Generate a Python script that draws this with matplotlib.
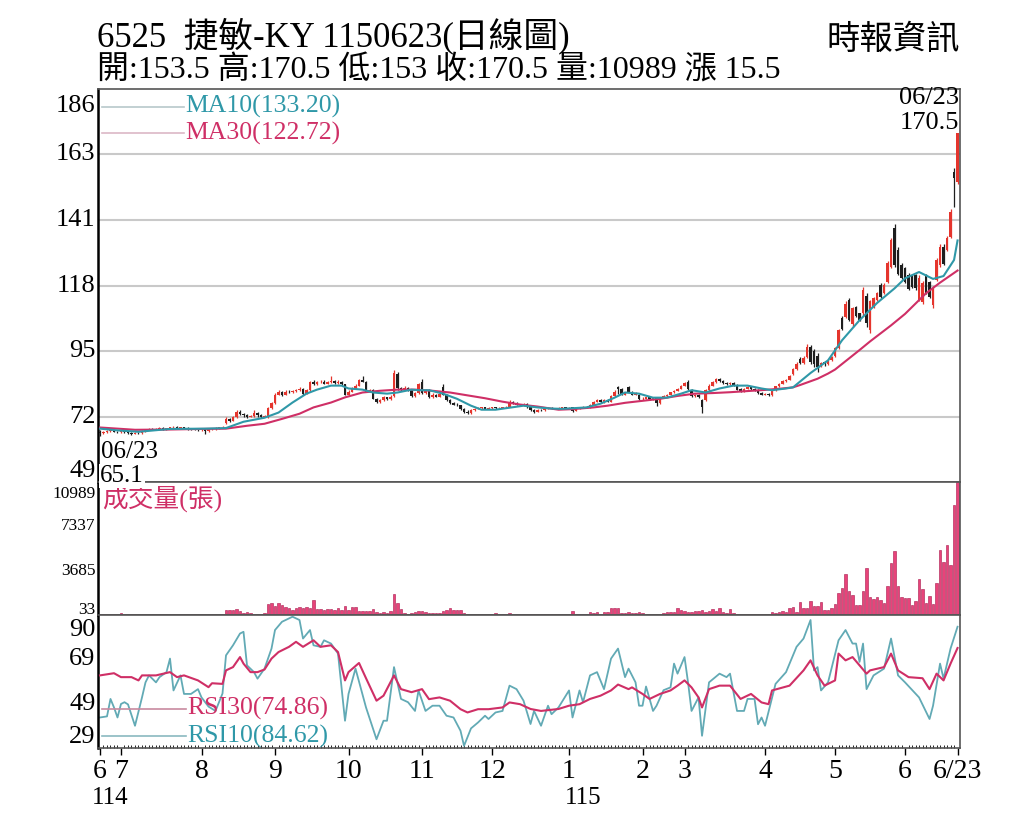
import matplotlib as mpl
import matplotlib.pyplot as plt
import matplotlib.transforms as mtransforms
import numpy as np

# 字型設定（英數用襯線體、中文用 Noto Sans CJK TC）
mpl.rcParams['font.family'] = ['Liberation Serif', 'Noto Sans CJK TC']

# ---- 資料 ----
# 日K（06/23 ~ 翌年06/23, 共246個交易日）
opens = [66.6, 66.2, 66.5, 66.8, 67.0, 66.6, 66.4, 66.8, 66.3, 66.0,
         65.8, 66.2, 66.0, 66.8, 67.3, 67.5, 67.3, 67.6, 67.8, 67.5,
         67.7, 68.0, 68.2, 67.9, 68.0, 67.8, 67.6, 67.5, 67.3, 67.0,
         67.5, 66.8, 67.4, 67.6, 67.8, 68.0, 69.5, 71.0, 70.4, 71.5,
         73.5, 72.8, 72.2, 71.8, 72.0, 73.0, 72.2, 71.8, 71.5, 74.8,
         76.5, 79.5, 80.5, 79.5, 80.5, 80.2, 80.8, 81.0, 81.5, 79.8,
         81.0, 83.8, 83.0, 83.8, 84.0, 83.2, 83.8, 84.2, 83.5, 84.0,
         83.0, 79.5, 80.5, 81.5, 82.5, 84.5, 84.0, 80.5, 81.0, 78.0,
         76.8, 77.5, 78.5, 77.8, 79.0, 86.5, 81.6, 81.2, 81.8, 81.0,
         79.0, 80.0, 84.0, 80.0, 81.0, 78.5, 79.5, 78.8, 82.0, 79.5,
         77.5, 76.5, 76.0, 75.8, 74.5, 73.5, 73.0, 74.0, 74.5, 74.8,
         75.0, 74.6, 74.8, 75.0, 74.7, 74.9, 75.0, 75.2, 77.0, 76.5,
         76.0, 75.8, 76.2, 75.0, 74.0, 73.5, 74.2, 74.0, 74.5, 74.8,
         74.6, 74.5, 74.8, 75.0, 74.7, 75.0, 73.8, 74.8, 75.0, 75.2,
         75.0, 76.0, 77.0, 77.5, 76.8, 77.5, 77.0, 79.0, 82.0, 81.5,
         79.5, 82.0, 80.5, 79.5, 79.5, 77.8, 78.0, 78.5, 77.8, 78.5,
         76.5, 78.5, 79.0, 79.5, 80.2, 80.8, 81.5, 82.5, 84.0, 81.0,
         79.0, 79.5, 77.5, 77.5, 81.0, 82.5, 83.8, 85.0, 84.2, 83.5,
         83.0, 83.5, 82.8, 81.5, 80.5, 81.5, 82.0, 81.5, 81.0, 80.0,
         79.5, 79.8, 79.2, 81.0, 82.3, 83.3, 84.2, 84.6, 86.5, 88.5,
         92.0, 90.6, 92.5, 96.0, 94.5, 93.0, 89.5, 90.8, 90.0, 91.5,
         93.0, 95.6, 106.0, 106.5, 112.4, 104.0, 110.0, 107.8, 108.0, 114.0,
         102.0, 110.0, 112.5, 117.7, 115.0, 118.7, 124.0, 137.6, 130.0, 124.7,
         123.6, 121.0, 121.0, 121.0, 112.5, 111.7, 121.0, 118.7, 110.7, 119.5,
         124.5, 131.0, 130.0, 134.5, 157.0, 153.5]
highs = [67.0, 66.8, 67.1, 67.3, 67.2, 66.9, 67.0, 67.0, 66.6, 66.3,
         66.5, 66.5, 67.0, 67.6, 67.8, 67.8, 67.9, 68.1, 68.1, 67.9,
         68.3, 68.5, 68.5, 68.3, 68.3, 68.1, 67.9, 67.8, 67.6, 67.5,
         67.8, 67.7, 67.9, 68.1, 68.3, 68.6, 71.5, 71.3, 72.0, 74.2,
         74.0, 73.2, 72.6, 72.5, 74.0, 73.3, 72.6, 72.4, 75.2, 77.0,
         80.0, 81.0, 80.8, 80.9, 80.9, 81.2, 81.5, 82.0, 81.8, 81.5,
         84.3, 84.5, 84.3, 84.6, 84.4, 84.3, 86.0, 84.6, 84.5, 84.3,
         83.3, 81.0, 82.0, 83.0, 85.0, 86.0, 84.3, 81.5, 81.3, 78.4,
         78.0, 79.0, 78.8, 79.2, 88.0, 87.5, 82.0, 82.3, 82.0, 81.3,
         80.5, 83.5, 85.0, 81.5, 81.3, 80.0, 79.8, 80.3, 83.0, 79.8,
         77.8, 77.0, 76.5, 76.0, 74.8, 74.0, 74.4, 74.8, 75.1, 75.3,
         75.3, 75.1, 75.3, 75.3, 75.2, 75.3, 75.5, 77.5, 77.3, 76.8,
         76.3, 76.5, 76.5, 75.3, 74.3, 74.5, 74.5, 74.8, 75.1, 75.1,
         74.9, 75.1, 75.3, 75.3, 75.2, 75.3, 75.1, 75.3, 75.5, 75.5,
         76.3, 77.3, 77.8, 77.8, 77.8, 77.8, 79.5, 81.0, 82.3, 81.8,
         80.5, 82.3, 80.8, 80.4, 79.8, 78.5, 78.8, 78.8, 78.6, 78.8,
         78.8, 79.3, 79.8, 80.5, 81.1, 81.8, 82.8, 84.0, 84.6, 81.3,
         79.8, 79.8, 77.8, 81.5, 83.0, 84.2, 85.3, 85.4, 84.5, 83.8,
         83.8, 83.8, 83.0, 81.8, 81.8, 82.3, 82.3, 81.8, 81.3, 80.3,
         80.1, 80.1, 81.3, 82.6, 83.6, 84.5, 84.9, 86.3, 88.8, 90.8,
         92.6, 92.8, 97.0, 96.8, 95.5, 94.0, 91.0, 91.2, 91.8, 92.8,
         96.0, 102.5, 107.0, 112.0, 113.0, 110.0, 110.5, 108.0, 117.0, 115.0,
         112.5, 113.5, 115.3, 118.2, 118.2, 126.0, 134.0, 139.0, 131.0, 125.5,
         124.0, 122.0, 121.5, 121.5, 121.0, 119.0, 121.5, 119.0, 117.2, 127.0,
         132.0, 132.0, 134.8, 144.0, 158.5, 170.5]
lows = [65.1, 65.9, 66.2, 66.5, 66.3, 66.1, 66.1, 66.0, 65.7, 65.5,
        65.6, 65.7, 65.8, 66.6, 67.0, 67.0, 67.0, 67.4, 67.2, 67.3,
        67.4, 67.7, 67.6, 67.6, 67.5, 67.3, 67.2, 67.0, 66.7, 66.8,
        65.8, 66.6, 67.1, 67.3, 67.5, 67.8, 69.2, 70.0, 70.2, 71.3,
        72.4, 71.8, 71.4, 71.5, 71.5, 71.8, 71.4, 71.5, 71.2, 74.5,
        76.3, 79.2, 79.0, 79.2, 79.9, 80.0, 80.5, 80.8, 79.5, 79.6,
        80.8, 82.7, 82.8, 83.5, 83.0, 83.0, 83.6, 83.2, 83.3, 82.8,
        79.2, 79.3, 80.3, 81.3, 82.3, 83.7, 80.2, 80.3, 77.8, 76.5,
        76.5, 77.3, 77.5, 77.5, 78.8, 81.2, 80.8, 81.0, 80.7, 78.7,
        78.8, 79.8, 79.8, 79.8, 78.3, 78.3, 78.5, 78.5, 79.2, 77.2,
        76.2, 75.8, 75.5, 74.2, 73.2, 72.7, 72.8, 73.8, 74.3, 74.5,
        74.4, 74.4, 74.6, 74.5, 74.5, 74.7, 74.8, 75.0, 76.2, 75.7,
        75.5, 75.6, 74.8, 73.8, 73.2, 73.3, 73.8, 73.8, 74.3, 74.4,
        74.3, 74.3, 74.6, 74.5, 74.5, 73.3, 73.6, 74.6, 74.8, 74.8,
        74.8, 75.8, 76.8, 76.5, 76.6, 76.8, 76.8, 78.8, 79.8, 79.2,
        79.2, 80.2, 79.2, 79.2, 77.5, 77.6, 77.8, 77.5, 77.5, 75.5,
        76.3, 78.3, 78.8, 79.2, 80.0, 80.6, 81.3, 82.3, 81.2, 78.6,
        78.8, 78.2, 73.0, 77.2, 80.8, 82.3, 83.6, 83.9, 83.2, 82.7,
        82.8, 82.6, 81.0, 80.2, 80.3, 81.3, 81.2, 80.8, 79.7, 79.2,
        79.3, 79.0, 79.0, 80.8, 82.0, 83.0, 84.0, 84.4, 86.3, 88.2,
        90.0, 90.3, 92.2, 90.0, 89.0, 87.5, 89.2, 89.6, 89.8, 91.2,
        92.7, 95.3, 102.0, 106.0, 105.0, 103.0, 106.5, 105.0, 107.0, 103.0,
        101.0, 109.5, 112.0, 113.0, 114.5, 118.2, 123.5, 124.0, 121.0, 119.8,
        118.2, 115.8, 116.5, 116.0, 112.0, 111.0, 114.5, 113.0, 109.5, 119.0,
        124.0, 124.5, 129.5, 134.0, 145.0, 153.0]
closes = [66.2, 66.5, 66.8, 67.0, 66.6, 66.4, 66.8, 66.3, 66.0, 65.8,
          66.2, 66.0, 66.8, 67.3, 67.5, 67.3, 67.6, 67.8, 67.5, 67.7,
          68.0, 68.2, 67.9, 68.0, 67.8, 67.6, 67.5, 67.3, 67.0, 67.2,
          66.8, 67.4, 67.6, 67.8, 68.0, 68.3, 71.0, 70.4, 71.5, 73.5,
          72.8, 72.2, 71.8, 72.0, 73.0, 72.2, 71.8, 72.0, 74.8, 76.5,
          79.5, 80.5, 79.5, 80.5, 80.2, 80.8, 81.0, 81.5, 79.8, 81.0,
          83.8, 83.0, 83.8, 84.0, 83.2, 83.8, 84.2, 83.5, 84.0, 83.0,
          79.5, 80.5, 81.5, 82.5, 84.5, 84.0, 80.5, 81.0, 78.0, 76.8,
          77.5, 78.5, 77.8, 78.8, 87.0, 81.6, 81.2, 81.8, 81.0, 79.0,
          80.0, 83.0, 80.0, 81.0, 78.5, 79.5, 78.8, 79.8, 79.5, 77.5,
          76.5, 76.0, 75.8, 74.5, 73.5, 73.0, 74.0, 74.5, 74.8, 75.0,
          74.6, 74.8, 75.0, 74.7, 74.9, 75.0, 75.2, 77.0, 76.5, 76.0,
          75.8, 76.2, 75.0, 74.0, 73.5, 74.2, 74.0, 74.5, 74.8, 74.6,
          74.5, 74.8, 75.0, 74.7, 74.9, 73.8, 74.8, 75.0, 75.2, 75.0,
          76.0, 77.0, 77.5, 76.8, 77.5, 77.0, 79.0, 80.5, 81.5, 79.5,
          80.0, 80.5, 79.5, 80.0, 77.8, 78.0, 78.5, 77.8, 78.2, 76.5,
          78.5, 79.0, 79.5, 80.2, 80.8, 81.5, 82.5, 83.5, 81.5, 79.0,
          79.5, 78.5, 75.0, 81.0, 82.5, 83.8, 84.8, 84.2, 83.5, 83.0,
          83.5, 82.8, 81.2, 80.5, 81.5, 82.0, 81.5, 81.0, 80.0, 79.5,
          79.8, 79.2, 81.0, 82.3, 83.3, 84.2, 84.6, 86.0, 88.4, 90.3,
          90.5, 92.3, 96.0, 91.0, 90.0, 89.0, 90.5, 90.0, 91.5, 92.5,
          95.6, 102.0, 102.5, 111.0, 105.5, 109.5, 107.0, 105.4, 116.0, 104.4,
          112.0, 113.0, 114.8, 113.5, 117.7, 125.4, 133.4, 124.5, 121.5, 120.2,
          118.7, 116.2, 117.0, 116.5, 120.0, 118.4, 115.0, 113.5, 116.6, 126.4,
          131.0, 125.0, 134.0, 143.0, 155.0, 170.5]

# 成交量（張）
volumes = [110, 90, 150, 120, 100, 130, 160, 110, 90, 120,
           100, 140, 120, 110, 90, 130, 100, 120, 110, 90,
           130, 110, 100, 120, 90, 110, 100, 90, 120, 110,
           150, 100, 90, 110, 120, 130, 450, 480, 420, 530,
           380, 220, 250, 180, 120, 150, 130, 160, 900, 1000,
           750, 1050, 860, 720, 650, 450, 620, 700, 580, 680,
           640, 1270, 560, 520, 480, 560, 520, 480, 600, 430,
           770, 420, 720, 720, 400, 360, 330, 380, 500, 300,
           220, 250, 200, 380, 1760, 1050, 500, 170, 150, 180,
           280, 330, 360, 300, 180, 160, 200, 170, 360, 420,
           630, 450, 420, 470, 230, 150, 120, 130, 110, 150,
           120, 100, 150, 180, 130, 110, 140, 200, 130, 110,
           100, 120, 90, 110, 100, 90, 120, 100, 110, 90,
           120, 130, 110, 100, 130, 390, 150, 130, 120, 140,
           310, 200, 250, 150, 250, 280, 630, 640, 620, 200,
           180, 250, 220, 160, 250, 200, 120, 150, 100, 140,
           120, 200, 300, 250, 250, 580, 420, 400, 300, 260,
           330, 350, 450, 280, 380, 500, 330, 630, 250, 230,
           500, 180, 120, 110, 100, 90, 110, 120, 100, 90,
           110, 130, 300, 180, 300, 330, 320, 650, 720, 300,
           1130, 580, 580, 1190, 780, 780, 1130, 450, 450, 580,
           940, 1820, 2230, 3410, 2040, 1680, 860, 860, 2040, 3880,
           1490, 1320, 1490, 1270, 1000, 2450, 4290, 5310, 2450, 1520,
           1460, 1460, 860, 1220, 3000, 2180, 1050, 1620, 900, 2640,
           5390, 4430, 5800, 4150, 9100, 10989]

# 均線（讀圖取點）
ma10_days = [0, 5, 11, 20, 30, 36, 41, 47, 51, 55, 59, 62, 66, 69, 71, 75, 78, 82, 85, 89,
             91, 94, 98, 102, 106, 109, 113, 117, 121, 125, 129, 132, 139, 143, 147, 150,
             154, 158, 162, 166, 169, 173, 177, 181, 185, 189, 192, 196, 198, 200, 203,
             208, 212, 217, 222, 227, 230, 234, 238, 241, 244, 245]
ma10_vals = [67.6, 67.0, 66.5, 67.5, 67.6, 67.8, 70.0, 71.4, 73.2, 76.7, 79.8, 81.2, 82.6, 82.6,
             81.6, 81.2, 80.2, 79.8, 80.2, 81.2, 81.0, 81.0, 79.8, 78.0, 75.6, 74.2, 74.2,
             74.9, 75.6, 75.0, 74.6, 74.5, 75.0, 76.3, 78.4, 80.2, 79.8, 78.4, 78.4, 79.8,
             81.0, 80.2, 81.6, 82.6, 82.6, 81.6, 81.0, 81.6, 82.0, 84.0, 87.0, 91.4, 98.4,
             105.4, 111.4, 116.5, 120.0, 122.2, 119.8, 120.8, 126.4, 133.2]
ma30_days = [0, 10, 20, 29, 36, 42, 47, 52, 57, 61, 66, 70, 75, 80, 85, 90, 95, 100, 105, 110,
             115, 120, 125, 131, 135, 141, 145, 150, 155, 160, 165, 170, 175, 180, 185, 190,
             195, 198, 200, 205, 208, 210, 217, 220, 226, 230, 236, 240, 245]
ma30_vals = [68.0, 67.2, 67.3, 67.5, 67.6, 68.6, 69.3, 71.0, 72.8, 75.0, 76.7, 78.5, 80.2, 80.8,
             81.2, 81.2, 80.8, 80.2, 79.2, 78.2, 77.0, 76.0, 75.3, 74.2, 74.4, 75.0, 75.6,
             76.6, 77.3, 78.0, 79.0, 79.8, 80.0, 80.3, 80.7, 81.1, 81.6, 82.0, 82.8, 85.0,
             86.8, 88.2, 95.0, 98.0, 103.6, 107.6, 114.8, 118.5, 122.72]

# RSI（讀圖取點）
rsi30_days = [0, 4, 6, 9, 11, 12, 16, 20, 22, 24, 28, 31, 32, 35, 36, 38, 40, 41, 43, 45, 47,
              49, 51, 54, 56, 58, 61, 63, 66, 68, 70, 71, 74, 76, 79, 81, 84, 86, 89, 92, 94,
              97, 100, 103, 105, 108, 111, 115, 117, 120, 123, 126, 131, 134, 137, 140, 143,
              146, 148, 151, 152, 155, 157, 160, 163, 165, 167, 169, 171, 172, 174, 177, 180,
              183, 186, 189, 191, 192, 197, 201, 203, 205, 207, 210, 211, 213, 215, 217, 219,
              220, 224, 226, 228, 231, 235, 237, 239, 241, 243, 245]
rsi30_vals = [62.3, 63.3, 61.5, 61.5, 60.0, 62.3, 62.3, 63.8, 61.5, 62.3, 60.0, 56.9, 58.7, 58.4,
              64.6, 66.1, 70.7, 67.7, 63.8, 63.8, 65.0, 70.0, 73.0, 75.4, 77.7, 75.4, 78.4,
              75.4, 76.1, 73.0, 60.0, 63.8, 68.0, 61.0, 50.7, 53.0, 62.3, 56.0, 54.6, 56.0,
              51.4, 52.2, 50.7, 46.8, 45.3, 46.8, 46.8, 47.6, 49.9, 49.1, 46.9, 46.0, 46.9,
              48.4, 49.1, 51.5, 53.0, 55.4, 58.1, 56.0, 56.8, 53.8, 51.5, 53.8, 55.4, 57.6,
              60.0, 56.8, 52.2, 47.6, 56.0, 57.6, 57.6, 51.5, 53.8, 49.9, 49.1, 55.4, 57.6,
              64.6, 69.2, 62.3, 57.6, 60.0, 72.3, 69.2, 70.7, 66.9, 63.1, 64.6, 66.1, 72.3,
              64.6, 61.5, 61.0, 56.0, 63.1, 60.0, 67.7, 74.86]
rsi10_days = [0, 2, 3, 4, 5, 6, 7, 8, 10, 12, 13, 14, 16, 17, 19, 20, 21, 23, 24, 26, 28, 29,
              31, 33, 35, 36, 38, 40, 41, 42, 44, 45, 47, 49, 50, 52, 55, 57, 58, 60, 61, 63,
              64, 66, 68, 70, 71, 73, 76, 79, 81, 82, 84, 86, 88, 90, 91, 93, 95, 97, 99, 101,
              103, 104, 106, 108, 110, 111, 113, 115, 117, 119, 121, 123, 124, 126, 128, 129,
              131, 134, 135, 137, 138, 140, 142, 144, 146, 148, 150, 151, 153, 154, 155, 156,
              158, 159, 161, 163, 164, 165, 167, 168, 169, 171, 172, 174, 177, 179, 180, 182,
              184, 185, 187, 188, 189, 190, 193, 196, 199, 201, 203, 204, 205, 206, 208, 211,
              213, 215, 216, 217, 218, 219, 221, 224, 226, 228, 230, 234, 237, 238, 240, 241,
              243, 245]
rsi10_vals = [43.0, 43.5, 51.5, 47.6, 43.0, 49.2, 50.0, 49.0, 39.2, 52.2, 59.1, 62.3, 59.1, 61.5,
              63.8, 70.0, 55.4, 62.3, 53.8, 53.8, 56.0, 52.2, 48.0, 46.0, 54.0, 71.5, 76.1,
              81.5, 82.3, 66.9, 63.8, 60.8, 65.4, 74.6, 83.1, 86.9, 89.2, 87.7, 79.2, 83.1,
              76.1, 75.4, 78.4, 76.9, 72.3, 41.5, 53.8, 65.4, 47.6, 33.0, 41.5, 41.5, 66.1,
              51.5, 50.0, 46.0, 55.4, 46.0, 48.4, 48.4, 43.8, 43.0, 36.9, 30.0, 38.0, 40.7,
              43.8, 42.3, 45.3, 46.0, 57.6, 56.0, 50.7, 40.0, 46.0, 39.2, 48.4, 44.5, 47.6,
              55.4, 43.0, 55.4, 50.0, 62.3, 63.8, 56.0, 70.0, 74.6, 61.5, 65.4, 59.1, 48.4,
              48.4, 57.2, 46.0, 48.4, 55.5, 56.8, 67.7, 63.1, 70.7, 59.1, 46.0, 52.2, 34.6,
              59.1, 63.1, 61.5, 63.1, 46.0, 46.0, 51.5, 51.5, 39.9, 43.0, 39.2, 58.4, 63.8,
              75.4, 79.2, 87.7, 64.6, 66.1, 55.4, 59.1, 78.4, 83.1, 76.9, 76.9, 68.5, 76.9,
              56.0, 62.3, 65.4, 79.2, 62.3, 59.1, 52.2, 42.3, 48.4, 67.7, 60.8, 74.6, 84.62]

# 軸刻度
price_ticks = [49, 71.83, 94.67, 117.5, 140.33, 163.17, 186]
price_labels = ['49', '72', '95', '118', '141', '163', '186']
vol_ticks = [33, 3685, 7337, 10989]
vol_labels = ['33', '3685', '7337', '10989']
rsi_ticks = [29, 49.33, 69.67, 90]
rsi_labels = ['29', '49', '69', '90']
month_days = [0, 6, 29, 50, 71, 92, 112, 134, 155, 167, 190, 210, 230, 245]
month_labels = ['6', '7', '8', '9', '10', '11', '12', '1', '2', '3', '4', '5', '6', '6/23']
year_days = [3, 138]
year_labels = ['114', '115']

# ---- 色彩 ----
C_RED = '#e5352d'
C_BLACK = '#1e1e1e'
C_TEAL = '#2f98a8'
C_MAG = '#cf2f66'
C_RSI10 = '#62aab5'
C_GRID = '#c9c9c9'

days = np.arange(len(closes))
o = np.array(opens)
h = np.array(highs)
l = np.array(lows)
c = np.array(closes)
up = c > o

W, H = 1024, 819
fig = plt.figure(figsize=(W / 100, H / 100), dpi=100)
left, right = 98 / W, 960 / W
ax1 = fig.add_axes([left, 1 - 482 / H, right - left, 393 / H])
ax2 = fig.add_axes([left, 1 - 615 / H, right - left, 133 / H])
ax3 = fig.add_axes([left, 1 - 748 / H, right - left, 133 / H])

for ax in (ax1, ax2, ax3):
    ax.set_xlim(-0.57, 245.7)
    ax.set_yticks([])
    ax.set_xticks([])
    for s in ax.spines.values():
        s.set_color('#555555')
        s.set_linewidth(1.2)
    ax.spines['left'].set_color('black')
    ax.spines['left'].set_linewidth(1.8)


def ylabels(ax, ticks, labels, size, top_off=0, bot_off=0):
    # 上下端的標籤往內側移動（單位: 點）
    tr = mtransforms.blended_transform_factory(ax.transAxes, ax.transData)
    for i, (t, s) in enumerate(zip(ticks, labels)):
        va, dy = 'center', 0
        if i == 0:
            va, dy = 'bottom', bot_off
        elif i == len(ticks) - 1:
            va, dy = 'top', top_off
        tt = mtransforms.offset_copy(tr, fig=fig, y=dy, units='points')
        ax.text(-0.003, t, s, transform=tt, ha='right', va=va, fontsize=size, clip_on=False)


# ---- 價格 ----
ax1.set_ylim(49, 186)
for t in price_ticks[1:-1]:
    ax1.axhline(t, color=C_GRID, lw=1.5, zorder=0)
ylabels(ax1, price_ticks, price_labels, 19, top_off=-4)

ax1.vlines(days[up], l[up], h[up], color=C_RED, lw=0.9, zorder=2)
ax1.vlines(days[~up], l[~up], h[~up], color=C_BLACK, lw=0.9, zorder=2)
ax1.bar(days[up], (c - o)[up], bottom=o[up], width=0.78, color=C_RED, zorder=3)
ax1.bar(days[~up], (o - c)[~up], bottom=c[~up], width=0.78, color=C_BLACK, zorder=3)

ax1.plot(ma30_days, ma30_vals, color=C_MAG, lw=1.5, zorder=4)
ax1.plot(ma10_days, ma10_vals, color=C_TEAL, lw=1.5, zorder=4)

# 圖例
ax1.plot([0.5, 24], [179.8, 179.8], color='#b8c8cb', lw=1.2)
ax1.plot([0.5, 24], [170.5, 170.5], color='#dcb8c6', lw=1.2)
ax1.text(24.3, 179.8, 'MA10(133.20)', color=C_TEAL, fontsize=18.5, va='center')
ax1.text(24.3, 170.5, 'MA30(122.72)', color=C_MAG, fontsize=18.5, va='center')

ax1.text(0.3, 59.5, '06/23', fontsize=18, ha='left', va='center')
ax1.text(245.5, 183.0, '06/23', fontsize=19, ha='right', va='center', clip_on=False)
ax1.text(245.5, 174.3, '170.5', fontsize=19, ha='right', va='center')
fig.text(100 / W, 1 - 476 / H, '65.1', fontsize=18, ha='left', va='center', zorder=10,
         bbox=dict(facecolor='white', edgecolor='none', pad=0.5))

# ---- 成交量 ----
ax2.set_ylim(33, 10989)
v = np.array(volumes)
ax2.bar(days, v - 33, bottom=33, width=0.7, color='#e8437a', edgecolor='#a8184c', lw=0.4)
ylabels(ax2, vol_ticks, vol_labels, 12.5, top_off=-3, bot_off=-2)
ax2.text(0.5, 9550, '成交量(張)', color=C_MAG, fontsize=18.5, va='center', ha='left')

# ---- RSI ----
ax3.set_ylim(29, 90)
ax3.plot(rsi10_days, rsi10_vals, color=C_RSI10, lw=1.3, zorder=2)
ax3.plot(rsi30_days, rsi30_vals, color=C_MAG, lw=1.5, zorder=3)
ylabels(ax3, rsi_ticks, rsi_labels, 19, top_off=-3)
ax3.plot([0.5, 24.5], [47.0, 47.0], color='#c88aa0', lw=1.2, zorder=4)
ax3.plot([0.5, 24.5], [34.5, 34.5], color='#8ab9c0', lw=1.2, zorder=4)
ax3.text(24.8, 47.0, 'RSI30(74.86)', color=C_MAG, fontsize=18.5, va='center', zorder=5)
ax3.text(24.8, 34.5, 'RSI10(84.62)', color=C_TEAL, fontsize=18.5, va='center', zorder=5)

ax3.set_xticks(month_days)
ax3.set_xticklabels(month_labels, fontsize=20)
ax3.set_xticks(days, minor=True)
ax3.tick_params(axis='x', which='major', length=5, width=1, direction='out', pad=3)
ax3.tick_params(axis='x', which='minor', length=2, width=0.6, direction='in')
trx = mtransforms.blended_transform_factory(ax3.transData, ax3.transAxes)
for d, s in zip(year_days, year_labels):
    ax3.text(d, -0.29, s, transform=trx, ha='center', va='top', fontsize=18)

# ---- 標題 ----
fig.text(97 / W, 1 - 46 / H, '6525  捷敏-KY 1150623(日線圖)', fontsize=25, ha='left', va='baseline')
fig.text(97 / W, 1 - 79 / H, '開:153.5 高:170.5 低:153 收:170.5 量:10989 漲 15.5',
         fontsize=23, ha='left', va='baseline')
fig.text(960 / W, 1 - 49 / H, '時報資訊', fontsize=24, ha='right', va='baseline')

fig.savefig('out.png', dpi=100)
